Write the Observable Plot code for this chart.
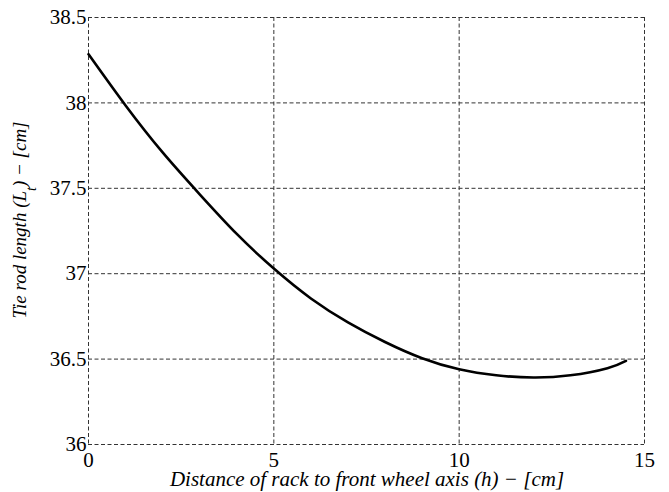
<!DOCTYPE html>
<html><head><meta charset="utf-8">
<script src="https://cdn.jsdelivr.net/npm/d3@7"></script>
<script src="https://cdn.jsdelivr.net/npm/@observablehq/plot@0.6"></script>
<style>
body{margin:0;background:#fff}
</style>
</head><body><div id="chart"></div>
<script>
const hValues = [0, 1, 2, 3, 4, 5, 6, 7, 8, 9, 10, 11, 12, 13, 14, 14.5];
const lengthValues = [38.285, 37.985, 37.71, 37.465, 37.233, 37.03, 36.855, 36.715, 36.6, 36.505, 36.44, 36.405, 36.392, 36.405, 36.447, 36.49];
const xTicks = [0, 5, 10, 15];
const yTicks = [36, 36.5, 37, 37.5, 38, 38.5];
const xLabel = "Distance of rack to front wheel axis (h) − [cm]";
const yLabelStart = "Tie rod length (L";
const yLabelSub = "t";
const yLabelEnd = ") − [cm]";

const data = hValues.map((h, i) => ({h, L: lengthValues[i]}));
const gridStyle = {stroke: "#333", strokeOpacity: 1, strokeWidth: 1, strokeDasharray: "4,2.5"};
const serif = "Liberation Serif";

const chart = Plot.plot({
  width: 669, height: 492,
  marginLeft: 88, marginRight: 25, marginTop: 17, marginBottom: 48,
  style: {fontSize: "21px", background: "#fff", color: "#000", fontFamily: serif},
  x: {domain: [0, 15], ticks: xTicks, tickSize: 0, tickPadding: 8, tickFormat: d => String(d), label: null},
  y: {domain: [36, 38.5], ticks: yTicks, tickSize: 0, tickPadding: 2, tickFormat: d => String(d), label: null},
  marks: [
    Plot.gridX(xTicks, gridStyle),
    Plot.gridY(yTicks, gridStyle),
    Plot.line(data, {x: "h", y: "L", stroke: "#000", strokeWidth: 2.6, curve: "natural"})
  ]
});
document.getElementById("chart").appendChild(chart);

const svg = d3.select(chart);
svg.append("text")
  .attr("x", 367).attr("y", 486)
  .attr("text-anchor", "middle")
  .style("font-style", "italic").style("font-size", "21px").attr("fill", "#000")
  .text(xLabel);

const yl = svg.append("text")
  .attr("transform", "translate(26,220) rotate(-90)")
  .attr("text-anchor", "middle")
  .style("font-style", "italic").style("font-size", "19px").attr("fill", "#000");
yl.append("tspan").text(yLabelStart);
yl.append("tspan").attr("dy", "10").style("font-size", "14px").text(yLabelSub);
yl.append("tspan").attr("dy", "-10").text(yLabelEnd);

svg.selectAll("text").attr("font-family", serif).style("font-family", serif);
</script>
</body></html>
